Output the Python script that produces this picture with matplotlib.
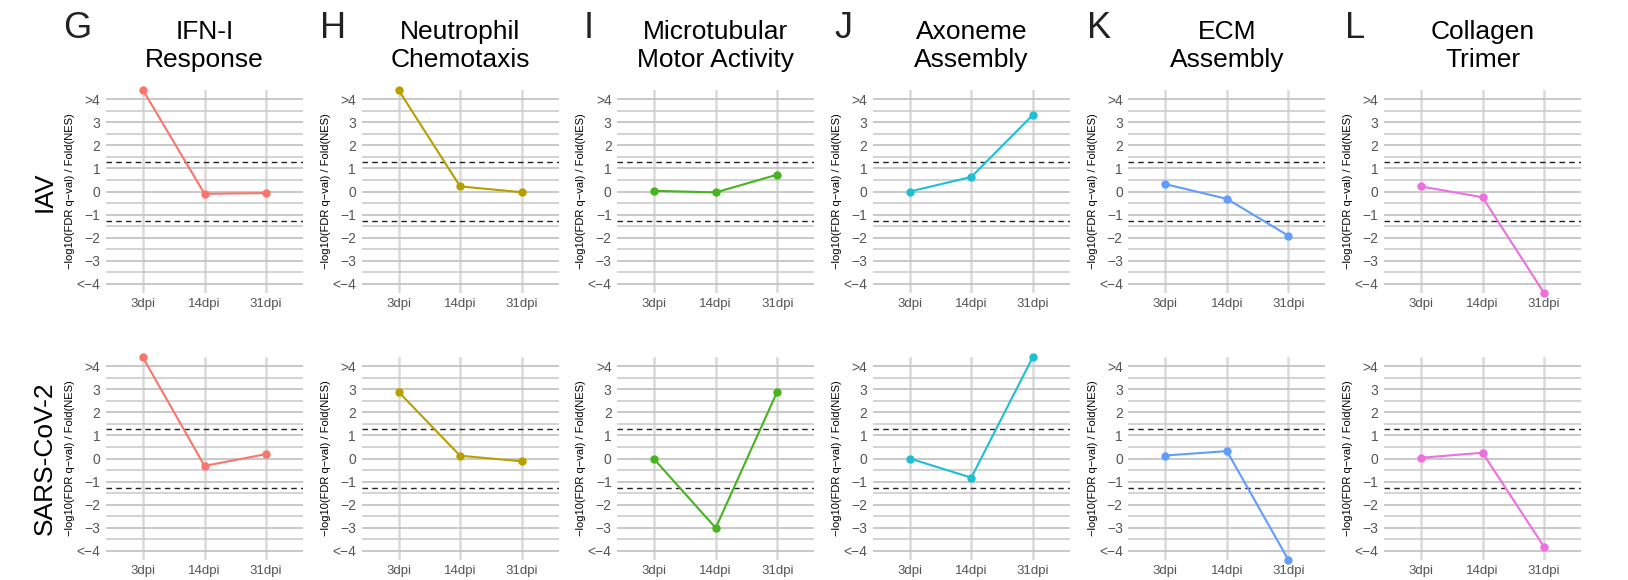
import matplotlib
matplotlib.use("Agg")
import matplotlib.pyplot as plt
from matplotlib.ticker import FixedLocator

plt.rcParams['font.family'] = ['Liberation Sans', 'DejaVu Sans']

letters = ["G", "H", "I", "J", "K", "L"]
titles = ["IFN-I\nResponse", "Neutrophil\nChemotaxis", "Microtubular\nMotor Activity",
          "Axoneme\nAssembly", "ECM\nAssembly", "Collagen\nTrimer"]
colors = ["#F8766D", "#B79F00", "#45B41E", "#1EBFD3", "#619CFF", "#EE6FE0"]
timepoints = ["3dpi", "14dpi", "31dpi"]
rows = ["IAV", "SARS-CoV-2"]

iav = [
    [4.4, -0.10, -0.07],
    [4.4, 0.22, -0.03],
    [0.03, -0.04, 0.73],
    [0.0, 0.63, 3.32],
    [0.32, -0.32, -1.92],
    [0.22, -0.25, -4.4],
]
sars = [
    [4.38, -0.32, 0.19],
    [2.89, 0.12, -0.12],
    [-0.03, -3.01, 2.90],
    [0.0, -0.83, 4.4],
    [0.13, 0.32, -4.4],
    [0.03, 0.25, -3.83],
]
ytick_vals = [4, 3, 2, 1, 0, -1, -2, -3, -4]
ytick_labels = [">4", "3", "2", "1", "0", "\u22121", "\u22122", "\u22123", "<\u22124"]
threshold = 1.3
ylabel = "\u2212log10(FDR q\u2212val) / Fold(NES)"

W, H = 1628, 580
fig = plt.figure(figsize=(W / 100, H / 100), dpi=100)

col_left0 = 106
col_step = 255.6
ax_w = 197
row_tops = [90, 357]
ax_h = 203

for r, data in enumerate([iav, sars]):
    for c in range(6):
        left = col_left0 + col_step * c
        top = row_tops[r]
        ax = fig.add_axes([left / W, 1 - (top + ax_h) / H, ax_w / W, ax_h / H])
        ax.set_xlim(0.4, 3.6)
        ax.set_ylim(-4.4, 4.4)
        for s in ax.spines.values():
            s.set_visible(False)
        ax.yaxis.set_major_locator(FixedLocator(ytick_vals))
        ax.yaxis.set_minor_locator(FixedLocator([v + 0.5 for v in range(-5, 5)]))
        ax.set_yticks(ytick_vals)
        ax.set_yticklabels(ytick_labels)
        ax.set_xticks([1, 2, 3])
        ax.set_xticklabels(timepoints)
        ax.tick_params(which='both', length=0)
        ax.tick_params(axis='y', pad=4, labelsize=10, labelcolor='#555555')
        ax.tick_params(axis='x', pad=3.5, labelsize=9.5, labelcolor='#555555')
        ax.grid(True, axis='y', which='major', color='#c4c4c4', lw=1.3)
        ax.grid(True, axis='y', which='minor', color='#cccccc', lw=1.2)
        ax.grid(True, axis='x', which='major', color='#dadada', lw=1.8)
        ax.set_axisbelow(True)
        ax.axhline(threshold, color='#222222', lw=1.0, ls=(0, (4, 3)))
        ax.axhline(-threshold, color='#222222', lw=1.0, ls=(0, (4, 3)))
        ax.plot([1, 2, 3], data[c], color=colors[c], lw=1.5, marker='o',
                markersize=5, clip_on=False, zorder=5)
        ax.set_ylabel(ylabel, fontsize=8, labelpad=1)
        if r == 0:
            fig.text((left - 29) / W, 1 - 28 / H, letters[c], fontsize=26,
                     ha='center', va='center', color='#222222')
            fig.text((left + ax_w / 2) / W, 1 - 46 / H, titles[c], fontsize=19,
                     ha='center', va='center', linespacing=1.22)
        if c == 0:
            fig.text(45 / W, 1 - (top + ax_h / 2) / H, rows[r], fontsize=19,
                     rotation=90, ha='center', va='center')

fig.savefig("out.png", dpi=100)
